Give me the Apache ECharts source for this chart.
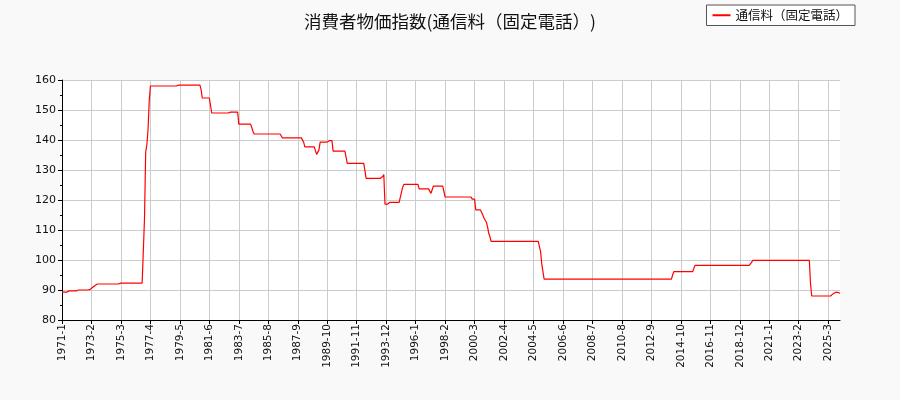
<!DOCTYPE html>
<html>
<head>
<meta charset="utf-8">
<script src="https://cdn.jsdelivr.net/npm/echarts@6/dist/echarts.min.js"></script>
<style>
html,body{margin:0;padding:0;background:#f9f9f9;}
#c{width:900px;height:400px;}
</style>
</head>
<body>
<div id="c"></div>
<script>
const chartTitle = '消費者物価指数(通信料（固定電話）)';
const seriesName = '通信料（固定電話）';
const startYear = 1971;
const endYear = 2026, endMonth = 1;

// monthly index values, one line per year (1971-01 .. 2026-01)
const values = [
  89.3,89.3,89.3,89.3,89.3,89.3,89.7,89.7,89.7,89.7,89.7,89.7, // 1971
  89.7,89.7,90.0,90.0,90.0,90.0,90.0,90.0,90.0,90.0,90.0,90.0, // 1972
  90.2,90.5,90.9,91.2,91.5,91.8,92.0,92.0,92.0,92.0,92.0,92.0, // 1973
  92.0,92.0,92.0,92.0,92.0,92.0,92.0,92.0,92.0,92.0,92.0,92.0, // 1974
  92.0,92.0,92.3,92.3,92.3,92.3,92.3,92.3,92.3,92.3,92.3,92.3, // 1975
  92.3,92.3,92.3,92.3,92.3,92.3,92.3,92.3,92.3,92.3,114.0,136.0, // 1976
  138.5,143.5,153.0,158.0,158.0,158.0,158.0,158.0,158.0,158.0,158.0,158.0, // 1977
  158.0,158.0,158.0,158.0,158.0,158.0,158.0,158.0,158.0,158.0,158.0,158.0, // 1978
  158.0,158.0,158.0,158.3,158.3,158.3,158.3,158.3,158.3,158.3,158.3,158.3, // 1979
  158.3,158.3,158.3,158.3,158.3,158.3,158.3,158.3,158.3,158.3,156.8,154.0, // 1980
  154.0,154.0,154.0,154.0,154.0,154.0,154.0,149.0,149.0,149.0,149.0,149.0, // 1981
  149.0,149.0,149.0,149.0,149.0,149.0,149.0,149.0,149.0,149.0,149.0,149.3, // 1982
  149.3,149.3,149.3,149.3,149.3,149.3,145.3,145.3,145.3,145.3,145.3,145.3, // 1983
  145.3,145.3,145.3,145.3,145.3,145.3,142.9,142.0,142.0,142.0,142.0,142.0, // 1984
  142.0,142.0,142.0,142.0,142.0,142.0,142.0,142.0,142.0,142.0,142.0,142.0, // 1985
  142.0,142.0,142.0,142.0,142.0,142.0,142.0,140.7,140.7,140.7,140.7,140.7, // 1986
  140.7,140.7,140.7,140.7,140.7,140.7,140.7,140.7,140.7,140.7,140.7,140.7, // 1987
  140.7,139.3,137.7,137.7,137.7,137.7,137.7,137.7,137.7,137.7,137.7,137.7, // 1988
  135.2,135.2,136.7,139.3,139.3,139.3,139.3,139.3,139.3,139.3,139.8,139.8, // 1989
  139.8,139.8,136.3,136.3,136.3,136.3,136.3,136.3,136.3,136.3,136.3,136.3, // 1990
  136.3,136.3,132.2,132.2,132.2,132.2,132.2,132.2,132.2,132.2,132.2,132.2, // 1991
  132.2,132.2,132.2,132.2,132.2,132.2,127.2,127.2,127.2,127.2,127.2,127.2, // 1992
  127.2,127.2,127.2,127.2,127.2,127.2,127.2,127.2,127.8,128.5,118.6,118.6, // 1993
  118.6,118.6,119.2,119.2,119.2,119.2,119.2,119.2,119.2,119.2,119.2,119.2, // 1994
  122.6,124.2,125.2,125.2,125.2,125.2,125.2,125.2,125.2,125.2,125.2,125.2, // 1995
  125.2,125.2,125.2,123.7,123.7,123.7,123.7,123.7,123.7,123.7,123.7,123.7, // 1996
  123.7,122.2,122.2,124.6,124.6,124.6,124.6,124.6,124.6,124.6,124.6,124.6, // 1997
  124.6,121.0,121.0,121.0,121.0,121.0,121.0,121.0,121.0,121.0,121.0,121.0, // 1998
  121.0,121.0,121.0,121.0,121.0,121.0,121.0,121.0,121.0,121.0,121.0,121.0, // 1999
  120.3,120.3,120.3,116.7,116.7,116.7,116.7,116.7,116.7,115.0,114.0,113.6, // 2000
  112.6,111.1,108.9,107.8,106.2,106.2,106.2,106.2,106.2,106.2,106.2,106.2, // 2001
  106.2,106.2,106.2,106.2,106.2,106.2,106.2,106.2,106.2,106.2,106.2,106.2, // 2002
  106.2,106.2,106.2,106.2,106.2,106.2,106.2,106.2,106.2,106.2,106.2,106.2, // 2003
  106.2,106.2,106.2,106.2,106.2,106.2,106.2,106.2,106.2,106.2,102.8,98.7, // 2004
  96.1,93.6,93.6,93.6,93.6,93.6,93.6,93.6,93.6,93.6,93.6,93.6, // 2005
  93.6,93.6,93.6,93.6,93.6,93.6,93.6,93.6,93.6,93.6,93.6,93.6, // 2006
  93.6,93.6,93.6,93.6,93.6,93.6,93.6,93.6,93.6,93.6,93.6,93.6, // 2007
  93.6,93.6,93.6,93.6,93.6,93.6,93.6,93.6,93.6,93.6,93.6,93.6, // 2008
  93.6,93.6,93.6,93.6,93.6,93.6,93.6,93.6,93.6,93.6,93.6,93.6, // 2009
  93.6,93.6,93.6,93.6,93.6,93.6,93.6,93.6,93.6,93.6,93.6,93.6, // 2010
  93.6,93.6,93.6,93.6,93.6,93.6,93.6,93.6,93.6,93.6,93.6,93.6, // 2011
  93.6,93.6,93.6,93.6,93.6,93.6,93.6,93.6,93.6,93.6,93.6,93.6, // 2012
  93.6,93.6,93.6,93.6,93.6,93.6,93.6,93.6,93.6,93.6,93.6,93.6, // 2013
  93.6,93.6,95.0,96.1,96.1,96.1,96.1,96.1,96.1,96.1,96.1,96.1, // 2014
  96.1,96.1,96.1,96.1,96.1,96.1,96.1,96.1,97.2,98.2,98.2,98.2, // 2015
  98.2,98.2,98.2,98.2,98.2,98.2,98.2,98.2,98.2,98.2,98.2,98.2, // 2016
  98.2,98.2,98.2,98.2,98.2,98.2,98.2,98.2,98.2,98.2,98.2,98.2, // 2017
  98.2,98.2,98.2,98.2,98.2,98.2,98.2,98.2,98.2,98.2,98.2,98.2, // 2018
  98.2,98.2,98.2,98.2,98.2,98.2,98.2,98.2,98.2,99.2,99.9,99.9, // 2019
  99.9,99.9,99.9,99.9,99.9,99.9,99.9,99.9,99.9,99.9,99.9,99.9, // 2020
  99.9,99.9,99.9,99.9,99.9,99.9,99.9,99.9,99.9,99.9,99.9,99.9, // 2021
  99.9,99.9,99.9,99.9,99.9,99.9,99.9,99.9,99.9,99.9,99.9,99.9, // 2022
  99.9,99.9,99.9,99.9,99.9,99.9,99.9,99.9,99.9,99.9,99.9,92.0, // 2023
  88.0,88.0,88.0,88.0,88.0,88.0,88.0,88.0,88.0,88.0,88.0,88.0, // 2024
  88.0,88.0,88.0,88.0,88.0,88.0,88.7,89.0,89.2,89.2,89.2,89.2, // 2025
  88.9 // 2026
];

const yTicks = {min: 80, max: 160, step: 10};
const labelEvery = 25; // months between x labels

const categories = [];
for (let y = startYear; y <= endYear; y++) {
  for (let m = 1; m <= 12; m++) {
    if (y === endYear && m > endMonth) break;
    categories.push(y + '-' + m);
  }
}

const chart = echarts.init(document.getElementById('c'), null, {renderer: 'canvas'});
chart.setOption({
  animation: false,
  backgroundColor: '#f9f9f9',
  title: {
    text: chartTitle,
    left: 'center',
    top: 8,
    textStyle: {fontFamily: 'Noto Sans CJK JP', fontSize: 17.5, fontWeight: 'normal', color: '#111'}
  },
  legend: {
    right: 45,
    top: 5,
    padding: [4, 7, 4, 6],
    itemWidth: 18,
    itemHeight: 2,
    itemGap: 8,
    icon: 'rect',
    backgroundColor: '#ffffff',
    borderColor: '#555',
    borderWidth: 1,
    borderRadius: 0,
    textStyle: {fontFamily: 'Noto Sans CJK JP', fontSize: 12.5, color: '#111'},
    data: [seriesName]
  },
  grid: {
    left: 62, right: 60, top: 80, bottom: 80,
    show: true, backgroundColor: '#ffffff', borderWidth: 0
  },
  xAxis: {
    type: 'category',
    data: categories,
    boundaryGap: false,
    axisLine: {show: true, lineStyle: {color: '#000', width: 1}},
    axisTick: {show: true, interval: labelEvery - 1, length: 4, lineStyle: {color: '#000'}},
    axisLabel: {
      interval: labelEvery - 1, rotate: 90, margin: 4,
      fontFamily: 'DejaVu Sans', fontSize: 10.5, color: '#111'
    },
    splitLine: {show: true, interval: labelEvery - 1, lineStyle: {color: '#cccccc', width: 1}}
  },
  yAxis: {
    type: 'value',
    min: yTicks.min, max: yTicks.max, interval: yTicks.step,
    axisLine: {show: true, lineStyle: {color: '#000', width: 1}},
    axisTick: {show: true, length: 4, lineStyle: {color: '#000'}},
    minorTick: {show: true, splitNumber: 2, length: 2, lineStyle: {color: '#000'}},
    axisLabel: {margin: 6, fontFamily: 'DejaVu Sans', fontSize: 11, color: '#111'},
    splitLine: {show: true, lineStyle: {color: '#cccccc', width: 1}}
  },
  series: [{
    name: seriesName,
    type: 'line',
    data: values,
    showSymbol: false,
    symbol: 'none',
    lineStyle: {color: '#ff0000', width: 1.2},
    itemStyle: {color: '#ff0000'}
  }]
});
</script>
</body>
</html>
